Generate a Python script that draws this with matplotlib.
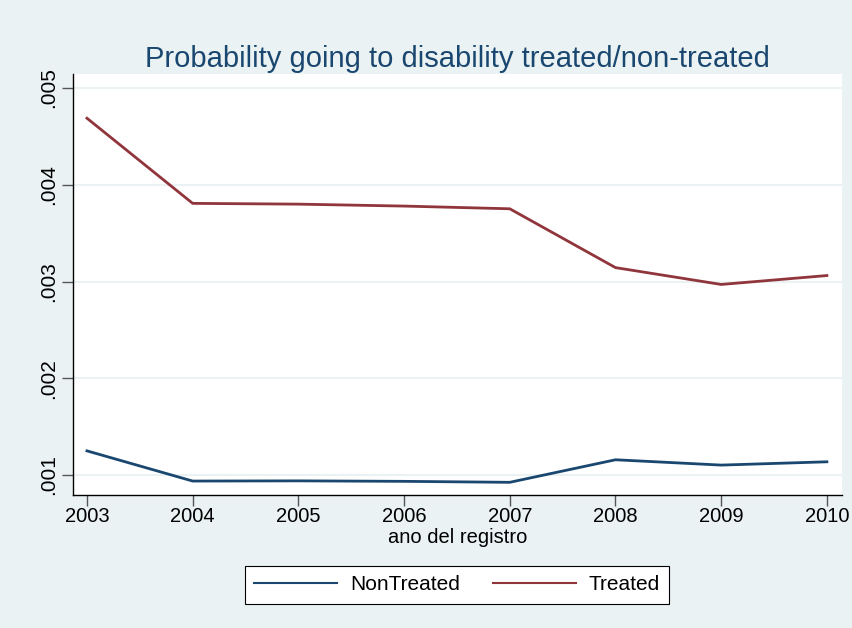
import numpy as np
import matplotlib.pyplot as plt

plt.rcParams['font.family'] = ['Liberation Sans', 'DejaVu Sans']

years = [2003, 2004, 2005, 2006, 2007, 2008, 2009, 2010]
non_treated = [0.00125, 0.000938, 0.00094, 0.000935, 0.000925, 0.001158, 0.001103, 0.001137]
treated = [0.004688, 0.003808, 0.0038, 0.00378, 0.003752, 0.003144, 0.00297, 0.003062]
ytick_vals = [0.001, 0.002, 0.003, 0.004, 0.005]
ytick_labels = ['.001', '.002', '.003', '.004', '.005']

bg = '#EAF2F3'
fig = plt.figure(figsize=(8.53, 6.28), dpi=100, facecolor=bg)
ax = fig.add_axes([0.0856, 0.2118, 0.9014, 0.6702])
ax.set_facecolor('white')

ax.plot(years, non_treated, color='#1A476F', lw=2, label='NonTreated')
ax.plot(years, treated, color='#90353B', lw=2, label='Treated')

ax.set_xlim(2002.868, 2010.142)
ax.set_ylim(0.000794, 0.005144)
ax.set_xticks(years)
ax.set_xticklabels([str(y) for y in years], fontsize=14.5)
ax.set_yticks(ytick_vals)
ax.set_yticklabels(ytick_labels, fontsize=15, rotation=90, va='center')
ax.grid(axis='y', color=bg, lw=1.5)
ax.set_axisbelow(True)
for s in ['top', 'right']:
    ax.spines[s].set_visible(False)
for s in ['left', 'bottom']:
    ax.spines[s].set_color('black')
    ax.spines[s].set_linewidth(1)
ax.tick_params(direction='out', length=8, width=1, color='#555555', pad=3)
ax.tick_params(axis='x', pad=1)

ax.set_xlabel('ano del registro', fontsize=14.5, labelpad=1)
ax.set_title('Probability going to disability treated/non-treated', fontsize=21,
             color='#1A476F', pad=5)

leg = fig.legend(loc='center', bbox_to_anchor=(457 / 853, 1 - 585 / 628), ncol=2,
                 fontsize=15, frameon=True, fancybox=False, edgecolor='black',
                 framealpha=1, handlelength=4.0, handletextpad=0.6,
                 columnspacing=1.6, borderpad=0.45)
leg.get_frame().set_linewidth(0.8)
for line in leg.get_lines():
    line.set_linewidth(1.5)

fig.savefig('out.png', dpi=100, facecolor=bg)
